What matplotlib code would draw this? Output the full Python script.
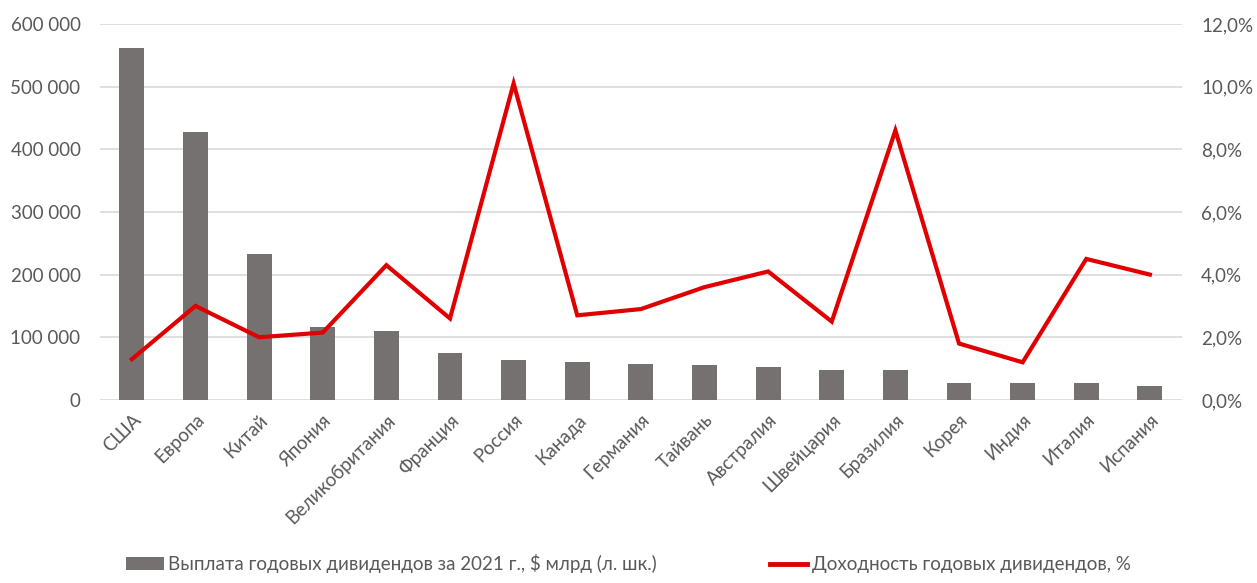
import matplotlib
matplotlib.use("Agg")
import matplotlib.pyplot as plt
from matplotlib.ticker import FuncFormatter, MultipleLocator
from matplotlib.lines import Line2D
from matplotlib.patches import Patch

plt.rcParams['font.family'] = ['Lato', 'DejaVu Sans']

categories = ["США", "Европа", "Китай", "Япония", "Великобритания", "Франция", "Россия",
              "Канада", "Германия", "Тайвань", "Австралия", "Швейцария", "Бразилия",
              "Корея", "Индия", "Италия", "Испания"]
payouts = [562000, 427000, 233000, 116000, 110000, 75000, 63000, 60000, 57000, 55000,
           52000, 48000, 48000, 27000, 27000, 27000, 22000]
yields_pct = [1.3, 3.0, 2.0, 2.15, 4.3, 2.6, 10.1, 2.7, 2.9, 3.6, 4.1, 2.5, 8.6,
              1.8, 1.2, 4.5, 4.0]

bar_label = "Выплата годовых дивидендов за 2021 г., $ млрд (л. шк.)"
line_label = "Доходность годовых дивидендов, %"

text_color = "#595959"
bar_color = "#767171"
line_color = "#E00000"
grid_color = "#D9D9D9"

fig = plt.figure(figsize=(12.57, 5.83), dpi=100)
ax = fig.add_axes([0.0796, 0.314, 0.8605, 0.645])
x = list(range(len(categories)))
ax.bar(x, payouts, width=0.39, color=bar_color, zorder=2)
ax.set_xlim(-0.5, len(categories) - 0.5)
ax.set_ylim(0, 600000)
ax.yaxis.set_major_locator(MultipleLocator(100000))
ax.yaxis.set_major_formatter(FuncFormatter(lambda v, p: f"{int(v):,}".replace(",", " ")))
ax.grid(axis='y', color=grid_color, linewidth=1.2, zorder=0)
ax.set_axisbelow(True)
for s in ax.spines.values():
    s.set_visible(False)
ax.tick_params(axis='both', length=0, colors=text_color, labelsize=13.5)
ax.tick_params(axis='y', pad=14)
ax.set_xticks(x)
ax.set_xticklabels(categories, rotation=45, ha='right', rotation_mode='anchor')
ax.tick_params(axis='x', pad=8)

ax2 = ax.twinx()
ax2.plot(x, yields_pct, color=line_color, linewidth=3.0, zorder=3, solid_joinstyle='miter')
ax2.set_ylim(0, 12)
ax2.yaxis.set_major_locator(MultipleLocator(2))
ax2.yaxis.set_major_formatter(FuncFormatter(lambda v, p: f"{v:.1f}%".replace(".", ",")))
for s in ax2.spines.values():
    s.set_visible(False)
ax2.tick_params(axis='y', length=0, colors=text_color, labelsize=13.5, pad=14)

handles = [Patch(facecolor=bar_color, label=bar_label),
           Line2D([0], [0], color=line_color, linewidth=3.5, label=line_label)]
fig.legend(handles=handles, loc='lower center', bbox_to_anchor=(0.5, -0.012), ncol=2,
           frameon=False, fontsize=13.5, labelcolor=text_color, columnspacing=6.0,
           handlelength=2.0, handletextpad=0.25)

fig.savefig("out.png", dpi=100)
